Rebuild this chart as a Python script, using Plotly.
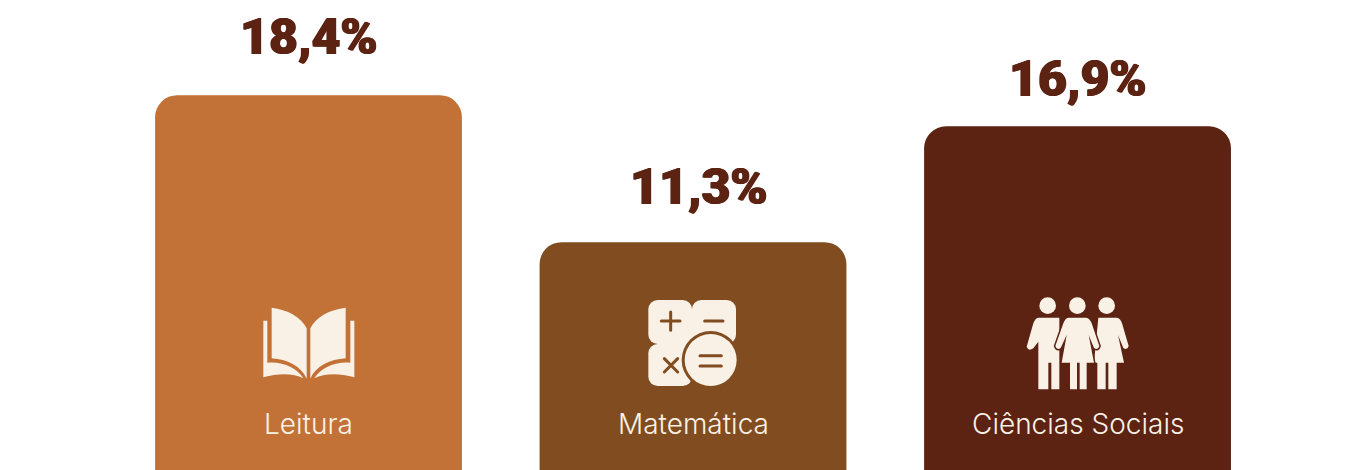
import base64
import plotly.graph_objects as go

categories = ["Leitura", "Matemática", "Ciências Sociais"]
values = [18.4, 11.3, 16.9]
value_labels = ["18,4%", "11,3%", "16,9%"]
bar_colors = ["#C27237", "#814D20", "#5C2212"]
INK = "#5C2212"
CREAM = "#FAF1E6"

W, H = 1369, 470

book = f'''<svg xmlns="http://www.w3.org/2000/svg" viewBox="0 0 420 450"><g fill="{CREAM}">
<path d="M211 115C226 82 270 58 317 53L317 205C270 208 228 228 211 266Z"/>
<path d="M200 115C185 82 141 58 95 53L95 205C141 208 183 228 200 266Z"/>
<path d="M70 92L82 92L82 218C130 214 172 235 190 265C160 249 115 249 70 262Z"/>
<path d="M343 92L331 92L331 218C283 214 241 235 223 265C253 249 298 249 343 262Z"/>
</g></svg>'''

calc = f'''<svg xmlns="http://www.w3.org/2000/svg" viewBox="0 0 540 450">
<g fill="{CREAM}">
<rect x="145" y="30" width="131" height="132" rx="28"/>
<rect x="276" y="30" width="132" height="132" rx="28"/>
<rect x="145" y="162" width="131" height="126" rx="28"/>
<rect x="200" y="90" width="150" height="130"/>
</g>
<circle cx="332" cy="210" r="87" fill="#814D20"/>
<circle cx="332" cy="210" r="78" fill="{CREAM}"/>
<g stroke="#814D20" stroke-width="9" stroke-linecap="round" fill="none">
<path d="M184 93H240M212 66V121M314 93H369M193 206L233 246M233 206L193 246M300 197H364M300 228H364"/>
</g></svg>'''

people = f'''<svg xmlns="http://www.w3.org/2000/svg" viewBox="0 0 660 450">
<g fill="{CREAM}">
<circle cx="233" cy="47" r="25"/><circle cx="322" cy="47" r="25"/><circle cx="410" cy="47" r="25"/>
<path d="M205 83L268 83L268 298L244 298L244 218L235 218L235 298L205 298L205 155L190 175Q175 185 170 170L190 100Q195 85 205 83Z"/>
<path d="M385 83L440 83Q452 85 456 100L476 168Q472 182 460 174L444 135L462 218L440 218L440 298L415 298L415 218L407 218L407 298L382 298L382 218L372 218Z"/>
<path stroke="#5C2212" stroke-width="9" paint-order="stroke" d="M295 83L348 83Q360 85 365 100L388 168Q385 182 372 174L356 135L372 218L350 218L350 298L329 298L329 218L321 218L321 298L300 298L300 218L275 218L290 135L272 174Q260 182 256 168L280 100Q285 85 295 83Z"/>
</g></svg>'''


def uri(svg):
    return "data:image/svg+xml;base64," + base64.b64encode(svg.encode()).decode()


def icon(svg, x, y, w, h):
    return dict(source=uri(svg), xref="paper", yref="paper", x=x / W, y=1 - y / H,
                sizex=w / W, sizey=h / H, xanchor="left", yanchor="top",
                sizing="stretch", layer="above")


fig = go.Figure(go.Bar(x=[0, 1, 2], y=values, marker=dict(color=bar_colors, line_width=0),
                       width=0.798, hoverinfo="skip"))

label_dx = [0, 6, 0]
label_dy = [27, 24, 16]
annotations = []
for i, (lab, v) in enumerate(zip(value_labels, values)):
    annotations.append(dict(x=i, y=v, text=lab, showarrow=False, xanchor="center", yanchor="bottom",
                            xshift=label_dx[i], yshift=label_dy[i],
                            font=dict(family="Roboto", size=50, color=INK, weight=900,
                                      shadow=f"0.8px 0 0 {INK}, -0.8px 0 0 {INK}")))
for i, c in enumerate(categories):
    annotations.append(dict(x=i, xref="x", yref="paper", y=1 - 424 / H, text=c, showarrow=False,
                            xanchor="center", yanchor="middle",
                            font=dict(family="Inter", size=28, color=CREAM, weight=300)))

fig.update_layout(
    width=W, height=H, margin=dict(l=0, r=0, t=0, b=0),
    paper_bgcolor="white", plot_bgcolor="white", showlegend=False,
    barcornerradius=22,
    xaxis=dict(range=[-0.8023, 2.758], visible=False, fixedrange=True),
    yaxis=dict(range=[0.29, 23.0], visible=False, fixedrange=True),
    annotations=annotations,
    images=[icon(book, 240, 290, 140, 150), icon(calc, 600, 290, 180, 150), icon(people, 970, 290, 220, 150)],
)
fig.write_html("out.html", config=dict(displayModeBar=False),
               post_script="document.body.style.margin='0';document.body.style.overflow='hidden';")
